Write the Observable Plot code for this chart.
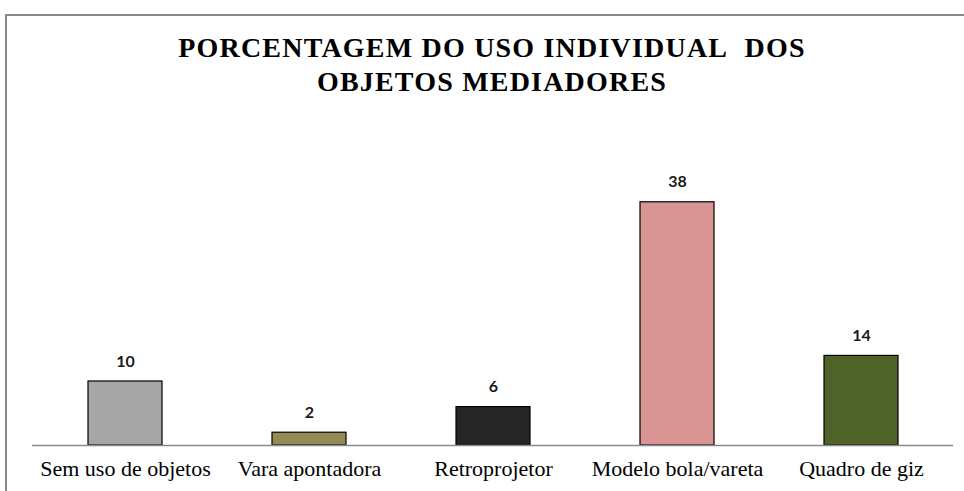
<!DOCTYPE html>
<html>
<head>
<meta charset="utf-8">
<script src="https://cdn.jsdelivr.net/npm/d3@7"></script>
<script src="https://cdn.jsdelivr.net/npm/@observablehq/plot@0.6"></script>
<style>
  html, body { margin: 0; padding: 0; background: #fff; }
  #page { position: relative; width: 964px; height: 491px; overflow: hidden; }
  #frame { position: absolute; left: 5px; top: 14px; width: 970px; height: 490px;
           border-top: 2px solid #8a8a8a; border-left: 2px solid #8a8a8a; }
  #title { position: absolute; left: 0; width: 984px; top: 31px; text-align: center;
           font-family: "Liberation Serif", "Times New Roman", serif; font-weight: bold;
           font-size: 28px; line-height: 34px; letter-spacing: 1.2px; color: #000; }
  #chart { position: absolute; left: 0; top: 0; }
  #chart .cat text { font-family: "Liberation Serif", "Times New Roman", serif; }
</style>
</head>
<body>
<div id="page">
  <div id="frame"></div>
  <div id="chart"></div>
  <div id="title">PORCENTAGEM DO USO INDIVIDUAL&nbsp; DOS<br>OBJETOS MEDIADORES</div>
</div>
<script>
const categories = ["Sem uso de objetos", "Vara apontadora", "Retroprojetor", "Modelo bola/vareta", "Quadro de giz"];
const values = [10, 2, 6, 38, 14];
const colors = ["#a6a6a6", "#948a54", "#262626", "#d99594", "#4f6228"];

const data = categories.map((c, i) => ({category: c, value: values[i], color: colors[i]}));

const chart = Plot.plot({
  width: 964,
  height: 491,
  marginTop: 125,
  marginBottom: 46,
  marginLeft: 32,
  marginRight: 11,
  style: {background: "transparent"},
  x: {domain: categories, paddingInner: 0.6, paddingOuter: 0.3, label: null, axis: null},
  y: {domain: [0, 50], axis: null},
  marks: [
    Plot.barY(data, {x: "category", y: "value", fill: "color", stroke: "#000", strokeWidth: 1.2}),
    Plot.ruleY([0], {stroke: "#8a8a8a", strokeWidth: 1.5}),
    Plot.text(data, {x: "category", y: "value", text: d => String(d.value), dy: -20,
      fontFamily: "Lato, 'Open Sans', sans-serif", fontWeight: "bold", fontSize: 16, fill: "#1a1a1a"}),
    Plot.text(data, {x: "category", y: () => 0, text: "category", dy: 15, lineAnchor: "top",
      className: "cat", fontSize: 22, fill: "#000",
      fontFamily: "Liberation Serif"})
  ]
});
document.getElementById("chart").appendChild(chart);
</script>
</body>
</html>
